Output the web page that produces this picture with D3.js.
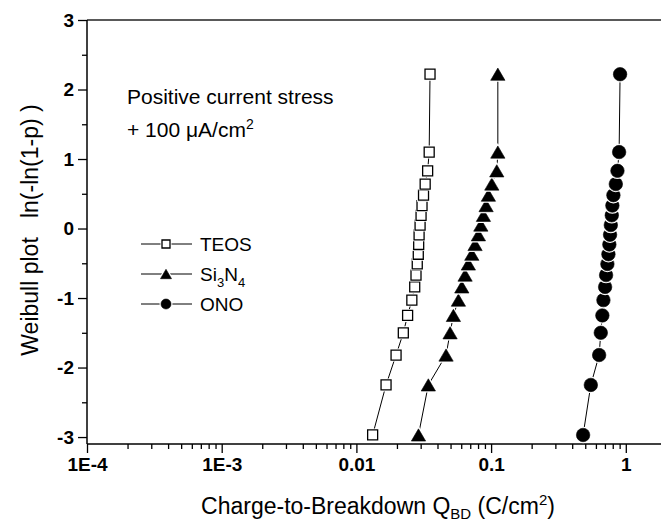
<!DOCTYPE html>
<html>
<head>
<meta charset="utf-8">
<script src="https://cdn.jsdelivr.net/npm/d3@7"></script>
<style>
  html, body { margin: 0; padding: 0; background: #fff; }
  svg { display: block; }
  text { font-family: "Liberation Sans", Arial, Helvetica, sans-serif; fill: #000; }
</style>
</head>
<body>
<svg id="chart" width="661" height="521"></svg>
<script>
// Weibull ordinate ln(-ln(1-p)) shared by all three samples
const weibullY = [-2.97, -2.25, -1.82, -1.50, -1.25, -1.03, -0.84, -0.67, -0.51, -0.37,
                  -0.23, -0.09, 0.05, 0.19, 0.33, 0.48, 0.64, 0.83, 1.10, 2.22];

// Charge-to-breakdown (C/cm^2) per sample
const qbdTEOS = [0.0132, 0.0166, 0.0197, 0.0223, 0.0240, 0.0258, 0.0271, 0.0277, 0.0283, 0.0288,
                 0.0290, 0.0292, 0.0297, 0.0302, 0.0307, 0.0315, 0.0324, 0.0338, 0.0347, 0.0352];
const qbdSiN  = [0.0289, 0.0342, 0.0463, 0.0496, 0.0525, 0.0572, 0.0606, 0.0641, 0.0678, 0.0719,
                 0.0760, 0.0805, 0.0839, 0.0877, 0.0918, 0.0955, 0.1012, 0.1102, 0.1122, 0.1122];
const qbdONO  = [0.482, 0.550, 0.634, 0.652, 0.670, 0.682, 0.702, 0.714, 0.730, 0.743,
                 0.755, 0.764, 0.774, 0.787, 0.795, 0.809, 0.843, 0.867, 0.892, 0.907];

const seriesNames = ["TEOS", "Si3N4", "ONO"];
const seriesMarkers = ["square", "triangle", "circle"];

const xTickValues = [1e-4, 1e-3, 1e-2, 1e-1, 1];
const xTickLabels = ["1E-4", "1E-3", "0.01", "0.1", "1"];
const yTickValues = [-3, -2, -1, 0, 1, 2, 3];
const yTickLabels = ["-3", "-2", "-1", "0", "1", "2", "3"];

const series = [qbdTEOS, qbdSiN, qbdONO].map((q, i) => ({
  name: seriesNames[i],
  marker: seriesMarkers[i],
  points: q.map((v, k) => ({ x: v, y: weibullY[k] }))
}));

const svg = d3.select("#chart");

const plotLeft = 87, plotTop = 20, plotBottom = 444, decade = 134.7;
const x = d3.scaleLog().domain([1e-4, 2]).range([plotLeft, plotLeft + decade * Math.log10(2e4)]);
const y = d3.scaleLinear().domain([-3.1, 3]).range([plotBottom, plotTop]);
const rightEdge = 661;

// Frame: top border line
svg.append("line")
  .attr("x1", plotLeft).attr("x2", rightEdge)
  .attr("y1", plotTop).attr("y2", plotTop)
  .attr("stroke", "#222").attr("stroke-width", 1.6);

// Minor ticks (x: 2..9 within each decade, y: half units)
const xMinor = [];
for (let e = -4; e <= 0; e++) for (let m = 2; m <= 9; m++) {
  const v = m * Math.pow(10, e);
  if (v < 2) xMinor.push(v);
}
const yMinor = [-2.5, -1.5, -0.5, 0.5, 1.5, 2.5];

const xAxisMinor = d3.axisBottom(x).tickValues(xMinor).tickSize(5).tickFormat("");
const yAxisMinor = d3.axisLeft(y).tickValues(yMinor).tickSize(5).tickFormat("");

const xAxis = d3.axisBottom(x).tickValues(xTickValues).tickSize(9).tickPadding(5)
  .tickFormat((d, i) => xTickLabels[i]);
const yAxis = d3.axisLeft(y).tickValues(yTickValues).tickSize(9).tickPadding(4)
  .tickFormat((d, i) => yTickLabels[i]);

function styleAxis(g) {
  g.select(".domain").remove();
  g.selectAll(".tick line").attr("stroke", "#000").attr("stroke-width", 1.3);
  g.selectAll(".tick text")
    .style("font-family", '"Liberation Sans", Arial, sans-serif')
    .style("font-size", "19px").style("font-weight", "bold").attr("fill", "#000");
}

svg.append("g").attr("transform", `translate(0,${plotBottom})`).call(xAxisMinor).call(styleAxis);
svg.append("g").attr("transform", `translate(${plotLeft},0)`).call(yAxisMinor).call(styleAxis);
svg.append("g").attr("transform", `translate(0,${plotBottom})`).call(xAxis).call(styleAxis);
svg.append("g").attr("transform", `translate(${plotLeft},0)`).call(yAxis).call(styleAxis);

// Axis lines
svg.append("line").attr("x1", plotLeft).attr("x2", rightEdge).attr("y1", plotBottom).attr("y2", plotBottom)
  .attr("stroke", "#000").attr("stroke-width", 1.5);
svg.append("line").attr("x1", plotLeft).attr("x2", plotLeft).attr("y1", plotTop).attr("y2", plotBottom)
  .attr("stroke", "#000").attr("stroke-width", 1.5);

// Marker shapes
function markerPath(kind, s) {
  if (kind === "square") {
    const h = s / 2;
    return `M${-h},${-h}H${h}V${h}H${-h}Z`;
  }
  if (kind === "triangle") {
    const w = s * 0.55, hh = s * 0.47;
    return `M0,${-hh}L${w},${hh}L${-w},${hh}Z`;
  }
  const r = s / 2;
  return `M${r},0A${r},${r} 0 1 1 ${-r},0A${r},${r} 0 1 1 ${r},0Z`;
}
const markerSize = { square: 10, triangle: 13, circle: 13.5 };

function drawMarker(g, kind, size) {
  // white halo leaves a small gap where the connecting line meets the marker
  g.append("path").attr("d", markerPath(kind, size))
    .attr("fill", "#fff").attr("stroke", "#fff").attr("stroke-width", 3);
  g.append("path").attr("d", markerPath(kind, size))
    .attr("fill", kind === "square" ? "#fff" : "#000")
    .attr("stroke", "#000").attr("stroke-width", kind === "square" ? 1.3 : 0.6);
}

const line = d3.line().x(d => x(d.x)).y(d => y(d.y));

const plot = svg.append("g");
series.forEach(s => {
  plot.append("path").datum(s.points).attr("d", line)
    .attr("fill", "none").attr("stroke", "#000").attr("stroke-width", 1);
});
series.forEach(s => {
  s.points.forEach(p => {
    const g = plot.append("g").attr("transform", `translate(${x(p.x)},${y(p.y)})`);
    drawMarker(g, s.marker, markerSize[s.marker]);
  });
});

// Legend
const legendRows = [244, 274, 304];
series.forEach((s, i) => {
  const ly = legendRows[i];
  svg.append("line").attr("x1", 141).attr("x2", 192).attr("y1", ly).attr("y2", ly)
    .attr("stroke", "#000").attr("stroke-width", 1);
  const g = svg.append("g").attr("transform", `translate(166,${ly})`);
  drawMarker(g, s.marker, s.marker === "square" ? 8 : 10);
  const t = svg.append("text").attr("x", 200).attr("y", ly + 7).style("font-size", "19px");
  if (s.name === "Si3N4") {
    t.append("tspan").text("Si");
    t.append("tspan").attr("dy", 6).style("font-size", "13px").text("3");
    t.append("tspan").attr("dy", -6).text("N");
    t.append("tspan").attr("dy", 6).style("font-size", "13px").text("4");
  } else {
    t.text(s.name);
  }
});

// Stress condition note
svg.append("text").attr("x", 127).attr("y", 104).style("font-size", "21px")
  .text("Positive current stress");
const note2 = svg.append("text").attr("x", 127).attr("y", 137).style("font-size", "21px");
note2.append("tspan").text("+ 100 \u03bcA/cm");
note2.append("tspan").attr("dy", -8).style("font-size", "14px").text("2");

// Axis titles
const xt = svg.append("text").attr("x", 378).attr("y", 514)
  .attr("text-anchor", "middle").style("font-size", "23px");
xt.append("tspan").text("Charge-to-Breakdown Q");
xt.append("tspan").attr("dy", 5).style("font-size", "15px").text("BD");
xt.append("tspan").attr("dy", -5).text(" (C/cm");
xt.append("tspan").attr("dy", -9).style("font-size", "15px").text("2");
xt.append("tspan").attr("dy", 9).text(")");

const yt = svg.append("text")
  .attr("transform", "translate(38,230) rotate(-90)")
  .attr("text-anchor", "middle").style("font-size", "23px")
  .attr("xml:space", "preserve");
yt.text("Weibull plot   ln(-ln(1-p) )");
</script>
</body>
</html>
